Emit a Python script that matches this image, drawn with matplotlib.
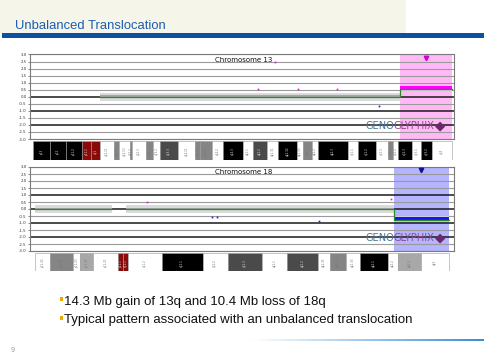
import matplotlib
matplotlib.use('Agg')
import matplotlib.pyplot as plt
from matplotlib.patches import Rectangle
from matplotlib.colors import LinearSegmentedColormap
import numpy as np

W, H = 484, 364

# ---------------- text content ----------------
title = "Unbalanced Translocation"
bullets = ["14.3 Mb gain of 13q and 10.4 Mb loss of 18q",
           "Typical pattern associated with an unbalanced translocation"]
page_number = "9"
logo_a, logo_b = "GENO", "GLYPHIX"

y_ticks = [3.0, 2.5, 2.0, 1.5, 1.0, 0.5, 0.0, -0.5, -1.0, -1.5, -2.0, -2.5, -3.0]

# ---------------- chromosome 13 ----------------
chr13_name = "Chromosome 13"
chr13_length = 115.0
chr13_seg_start = [18.4, 100.7]
chr13_seg_end = [100.7, 115.0]
chr13_seg_level = [0.0, 0.62]
chr13_seg_smooth = [0.0, 0.52]
chr13_seg_spread = [0.28, 0.2]
chr13_seg_call = ["none", "gain"]
chr13_out_mb = [66.4, 61.8, 72.7, 83.4, 95.0]
chr13_out_val = [2.5, 0.57, 0.57, 0.57, -0.64]
chr13_out_call = ["gain", "gain", "gain", "gain", "loss"]
chr13_heavy = [0.0, -1.0, -2.0]

chr13_band_edges = [0, 4.7, 9.1, 13.5, 15.9, 18.4, 22.2, 23.6, 26.6, 27.2, 31.0,
                    32.9, 34.9, 39.8, 44.5, 45.8, 49.1, 52.2, 57.7, 60.4, 64.2,
                    67.3, 72.5, 74.1, 76.6, 78.2, 86.5, 89.2, 94.2, 97.5, 98.8,
                    100.2, 104.0, 106.5, 109.5, 115.0]
chr13_band_names = ["p13", "p12", "p11.2", "p11.1", "q11", "q12.11", "q12.12",
                    "q12.13", "q12.2", "q12.3", "q13.1", "q13.2", "q13.3",
                    "q14.11", "q14.12", "q14.13", "q14.2", "q14.3", "q21.1",
                    "q21.2", "q21.31", "q21.32", "q21.33", "q22.1", "q22.2",
                    "q22.3", "q31.1", "q31.2", "q31.3", "q32.1", "q32.2",
                    "q32.3", "q33.1", "q33.2", "q34"]
chr13_band_stain = ["gpos100", "gpos100", "gpos100", "acen", "acen", "gneg",
                    "gpos50", "gneg", "gpos50", "gneg", "gpos50", "gneg",
                    "gpos75", "gneg", "gpos50", "gpos50", "gneg", "gpos100",
                    "gneg", "gpos75", "gneg", "gpos100", "gneg", "gpos50",
                    "gneg", "gpos100", "gneg", "gpos100", "gneg", "gpos50",
                    "gneg", "gpos100", "gneg", "gpos100", "gneg"]

# ---------------- chromosome 18 ----------------
chr18_name = "Chromosome 18"
chr18_length = 78.0
chr18_seg_start = [0.0, 17.2, 67.6]
chr18_seg_end = [14.5, 67.6, 78.0]
chr18_seg_level = [0.0, 0.0, -0.72]
chr18_seg_smooth = [0.0, 0.0, -0.8]
chr18_seg_spread = [0.28, 0.26, 0.22]
chr18_seg_call = ["none", "none", "loss"]
chr18_out_mb = [21.1, 33.3, 34.3, 67.0, 53.5]
chr18_out_val = [0.5, -0.57, -0.57, 0.71, -0.86]
chr18_out_call = ["gain", "loss", "loss", "gain", "loss"]
chr18_heavy = [1.0, 0.0, -1.0, -2.0]

chr18_band_edges = [0, 2.8, 7.2, 8.5, 10.9, 15.6, 16.6, 17.5, 23.9, 31.6, 36.3,
                    42.7, 47.5, 53.3, 55.6, 58.6, 61.2, 66.5, 68.4, 72.7, 78.0]
chr18_band_names = ["p11.32", "p11.31", "p11.23", "p11.22", "p11.21", "p11.1",
                    "q11.1", "q11.2", "q12.1", "q12.2", "q12.3", "q21.1",
                    "q21.2", "q21.31", "q21.32", "q21.33", "q22.1", "q22.2",
                    "q22.3", "q23"]
chr18_band_stain = ["gneg", "gpos50", "gneg", "gpos25", "gneg", "acen", "acen",
                    "gneg", "gpos100", "gneg", "gpos75", "gneg", "gpos75",
                    "gneg", "gpos50", "gneg", "gpos100", "gneg", "gpos25", "gneg"]

# ---------------- styles ----------------
stain_color = {"gneg": "#ffffff", "gpos25": "#a8a8a8", "gpos50": "#858585",
               "gpos75": "#4a4a4a", "gpos100": "#000000", "acen": "#8a0a0a"}
call_color = {"gain": "#ff00ff", "loss": "#1414ff", "none": "#8c8c8c"}
shade_color = {"gain": "#ffbaf6", "loss": "#b4b4ff"}
tri_color = {"gain": "#d000d0", "loss": "#10109a"}

fig = plt.figure(figsize=(W / 100, H / 100), dpi=100)
bg = fig.add_axes([0, 0, 1, 1])
bg.set_xlim(0, W)
bg.set_ylim(H, 0)
bg.axis('off')

# slide header
bg.add_patch(Rectangle((0, 0), 406, 33.5, color='#f5f5ea', lw=0))
bg.add_patch(Rectangle((2, 33.3), 482, 5, color='#0a50a4', lw=0))
bg.text(15, 29.3, title, fontsize=9.4, color='#1d5db0',
        family='Liberation Sans', va='baseline', ha='left')

# bullets
for i, b in enumerate(bullets):
    base = 304.5 + i * 18.8
    bg.add_patch(Rectangle((60, base - 7.2), 3.4, 3.4, color='#f0a800', lw=0))
    bg.text(64.5, base, b, fontsize=9.5, color='#111111',
            family='Liberation Sans', va='baseline', ha='left')

bg.text(11, 352, page_number, fontsize=5, color='#9a9a9a',
        family='Liberation Sans', va='baseline')

grad = LinearSegmentedColormap.from_list('g', ['#ffffff', '#9cc8ee', '#3a8ed6'])
bg.imshow(np.linspace(0, 1, 200)[None, :], cmap=grad, aspect='auto',
          extent=(250, 484, 341, 339), zorder=1)


def px_axes(left, top, right, bottom):
    return fig.add_axes([left / W, 1 - bottom / H, (right - left) / W,
                         (bottom - top) / H])


def draw_panel(box, ibox, length, x0px, x1px, name, seg_start, seg_end,
               seg_level, seg_smooth, seg_spread, seg_call, out_mb, out_val,
               out_call, heavy, edges, names, stains, label_y):
    ax = px_axes(*box)
    scale = (x1px - x0px) / length
    xl = (box[0] - x0px) / scale
    xr = (box[2] - x0px) / scale
    ax.set_xlim(xl, xr)
    ax.set_ylim(-3.0, 3.0)
    # called regions
    for s, e, c in zip(seg_start, seg_end, seg_call):
        if c != "none":
            ax.axvspan(s, e, color=shade_color[c], lw=0, zorder=0)
            ax.plot([(s + e) / 2], [2.78], marker='v', ms=3.2,
                    color=tri_color[c], zorder=6, clip_on=False)
    # gridlines
    for t in y_ticks:
        if t in heavy:
            ax.axhline(t, color='#1a1a1a', lw=1.1, zorder=1)
        else:
            ax.axhline(t, color='#9a9a9a', lw=0.8, zorder=1)
    # probe scatter envelopes
    for s, e, lv, sp, c in zip(seg_start, seg_end, seg_level, seg_spread, seg_call):
        ax.fill_between([s, e], lv - sp, lv + sp, color='#d6d6d6', lw=0,
                        zorder=2, alpha=0.9)
        if c == "none":
            ax.fill_between([s, e], lv - sp * 0.35, lv + sp * 0.35,
                            color='#a4a8a4', lw=0, zorder=3)
        else:
            ax.fill_between([s, e], lv - sp * 0.6, lv + sp * 0.6,
                            color=call_color[c], lw=0, zorder=3)
    # smoothed segment line
    xs, ys = [], []
    for i, (s, e, sm) in enumerate(zip(seg_start, seg_end, seg_smooth)):
        if i > 0 and s != seg_end[i - 1]:
            ax.plot(xs, ys, color='#2a8a2a', lw=0.9, zorder=4)
            xs, ys = [], []
        xs += [s, e]
        ys += [sm, sm]
    ax.plot(xs, ys, color='#2a8a2a', lw=0.9, zorder=4)
    # outliers
    for m, v, c in zip(out_mb, out_val, out_call):
        ax.plot([m], [v], 's', ms=1.2, mew=0, color=call_color[c], zorder=5)
    # axes styling
    for sp in ax.spines.values():
        sp.set_color('#7a7a7a')
        sp.set_linewidth(0.8)
    ax.set_xticks([])
    ax.set_yticks(y_ticks)
    ax.set_yticklabels(['%.1f' % t for t in y_ticks], fontsize=2.8,
                       color='#333333')
    ax.tick_params(axis='y', length=1.5, width=0.4, pad=1, colors='#333333')
    ax.text((215 - box[0]) / (box[2] - box[0]), label_y, name,
            transform=ax.transAxes, fontsize=5, ha='left', va='center',
            color='#111111', zorder=7)
    # logo
    ly = 0.155
    t1 = ax.text((365 - box[0]) / (box[2] - box[0]), ly, logo_a,
                 transform=ax.transAxes, fontsize=7.1,
                 color='#4a7a96', ha='left', va='center', zorder=7)
    t2 = ax.annotate(logo_b, xy=(1, 0.5), xycoords=t1, fontsize=7.1,
                     color='#8e4a8e', ha='left', va='center', zorder=7)
    ax.annotate('\u25c6', xy=(1, 0.5), xycoords=t2, xytext=(0.3, 0),
                textcoords='offset points', fontsize=9.5, color='#6a2a6a',
                ha='left', va='center', zorder=7)

    # ideogram
    ia = px_axes(*ibox)
    ia.set_xlim(xl, xr)
    ia.set_ylim(0, 1)
    ia.axis('off')
    for s, e, n, st in zip(edges[:-1], edges[1:], names, stains):
        ia.add_patch(Rectangle((s, 0), e - s, 1, facecolor=stain_color[st],
                               edgecolor='#9a9a9a', lw=0.4))
        tc = '#dddddd' if st in ("gpos75", "gpos100", "acen") else '#777777'
        ia.text((s + e) / 2, 0.45, n, rotation=90, fontsize=2.0, color=tc,
                ha='center', va='center')
    return ax


draw_panel((30, 54.5, 454, 139), (30, 141, 454, 159.5), chr13_length, 33, 452,
           chr13_name, chr13_seg_start, chr13_seg_end, chr13_seg_level,
           chr13_seg_smooth, chr13_seg_spread, chr13_seg_call, chr13_out_mb,
           chr13_out_val, chr13_out_call, chr13_heavy, chr13_band_edges,
           chr13_band_names, chr13_band_stain, 0.935)

draw_panel((30, 167, 454, 251), (30, 252.5, 454, 271), chr18_length, 35, 449,
           chr18_name, chr18_seg_start, chr18_seg_end, chr18_seg_level,
           chr18_seg_smooth, chr18_seg_spread, chr18_seg_call, chr18_out_mb,
           chr18_out_val, chr18_out_call, chr18_heavy, chr18_band_edges,
           chr18_band_names, chr18_band_stain, 0.94)

fig.savefig('out.png', dpi=100)
